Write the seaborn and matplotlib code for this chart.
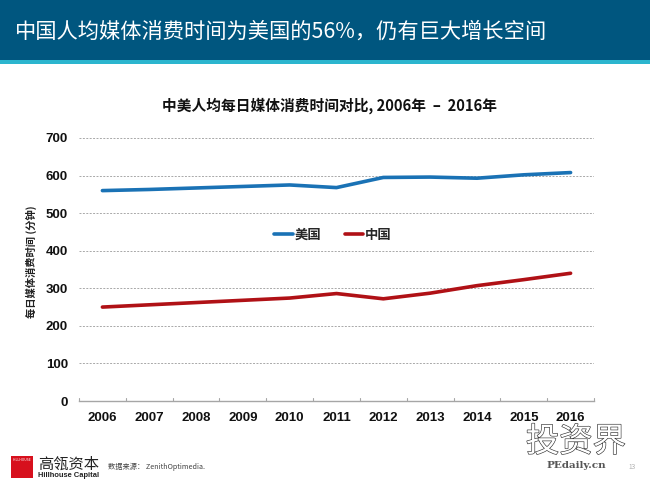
import matplotlib
matplotlib.use("Agg")
import matplotlib.pyplot as plt
import matplotlib.patheffects as pe
from matplotlib.patches import Rectangle
import pandas as pd
import seaborn as sns

YEARS = [2006, 2007, 2008, 2009, 2010, 2011, 2012, 2013, 2014, 2015, 2016]
USA = [560, 563, 567, 571, 575, 568, 595, 596, 593, 602, 608]
CHINA = [250, 256, 262, 268, 274, 286, 272, 287, 307, 323, 340]
Y_TICKS = [0, 100, 200, 300, 400, 500, 600, 700]

W, H = 650, 487

sns.set_theme(style="white")
plt.rcParams["font.family"] = ["Noto Sans CJK SC", "DejaVu Sans"]

data = pd.DataFrame({
    "idx": list(range(len(YEARS))) * 2,
    "minutes": USA + CHINA,
    "country": ["美国"] * len(YEARS) + ["中国"] * len(YEARS),
})

fig = plt.figure(figsize=(W / 100, H / 100), dpi=100, facecolor="white")

# header band
fig.add_artist(Rectangle((0, 1 - 60.5 / H), 1, 60.5 / H, transform=fig.transFigure, color="#00567F", lw=0))
fig.add_artist(Rectangle((0, 1 - 63.5 / H), 1, 3 / H, transform=fig.transFigure, color="#2BB5CE", lw=0))
fig.text(15 / W, 1 - 32 / H, "中国人均媒体消费时间为美国的56%，仍有巨大增长空间",
         color="white", fontsize=15.3, va="center", ha="left")
fig.text(329 / W, 1 - 106 / H, "中美人均每日媒体消费时间对比, 2006年  –  2016年",
         color="#111111", fontsize=10.6, fontweight="bold", va="center", ha="center")

ax = fig.add_axes([79 / W, 1 - 401 / H, (594 - 79) / W, (401 - 138) / H])
sns.lineplot(
    data=data, x="idx", y="minutes", hue="country",
    palette={"美国": "#1A72B5", "中国": "#B01116"},
    linewidth=2.6, errorbar=None, ax=ax, legend=False,
)
ax.set_xlim(-0.5, len(YEARS) - 0.5)
ax.set_ylim(0, 700)
ax.set_yticks(Y_TICKS)
ax.set_yticklabels(Y_TICKS, fontsize=9.5, fontweight="bold", family="Liberation Sans", color="#111111")
ax.set_xticks(range(len(YEARS)))
ax.set_xticklabels(YEARS, fontsize=9.5, fontweight="bold", family="Liberation Sans", color="#111111")
ax.tick_params(axis="x", length=0, pad=8)
ax.tick_params(axis="y", length=0, pad=8)
ax.set_xlabel("")
ax.set_ylabel("")
ax.yaxis.grid(True, color="#A8A8A8", linestyle=(0, (2, 1.5)), linewidth=0.7)
ax.xaxis.grid(False)
ax.set_axisbelow(True)
for side in ["top", "right", "left"]:
    ax.spines[side].set_visible(False)
ax.spines["bottom"].set_color("#A6A6A6")
ax.spines["bottom"].set_linewidth(1.0)

# tick marks between the categories, pointing up
for i in range(len(YEARS) + 1):
    ax.plot([i - 0.5, i - 0.5], [0, 7], color="#A6A6A6", lw=0.8, clip_on=False)

fig.text(31 / W, 1 - 262 / H, "每日媒体消费时间 (分钟)", rotation=90, fontsize=7.4,
         fontweight="bold", color="#222222", va="center", ha="center")

# legend inside the plot
legend_handles = [
    plt.Line2D([], [], color="#1A72B5", lw=2.6, label="美国"),
    plt.Line2D([], [], color="#B01116", lw=2.6, label="中国"),
]
ax.legend(handles=legend_handles, loc="center", bbox_to_anchor=((333 - 79) / 515, (401 - 235) / 263),
          ncol=2, frameon=False, handlelength=1.4, handletextpad=0.15, columnspacing=1.75,
          prop={"weight": "bold", "size": 9.6})

# logo and source
fig.add_artist(Rectangle((11 / W, 1 - 478 / H), 22 / W, 22 / H, transform=fig.transFigure, color="#D7101D", lw=0))
fig.text(22 / W, 1 - 460 / H, "HILLHOUSE", color="white", fontsize=2.4, ha="center", va="center")
fig.text(38 / W, 1 - 464 / H, "高瓴资本", fontsize=11, fontweight="medium", color="#222222", va="center", ha="left")
fig.text(38 / W, 1 - 475.5 / H, "Hillhouse Capital", fontsize=5.4, fontweight="bold", family="Liberation Sans",
         color="#222222", va="center", ha="left")
fig.text(108 / W, 1 - 467 / H, "数据来源： ZenithOptimedia.", fontsize=5.2, color="#444444", va="center", ha="left")
fig.text(632 / W, 1 - 467 / H, "13", fontsize=4.8, color="#B0B0B0", va="center", ha="center")

# watermark
fig.text(576 / W, 1 - 442 / H, "投资界", fontsize=24, color="white", va="center", ha="center", zorder=5,
         path_effects=[pe.withStroke(linewidth=0.9, foreground="#333333")])
fig.text(576 / W, 1 - 465 / H, "PEdaily.cn", fontsize=7.5, fontweight="bold", family="DejaVu Serif",
         color="#555555", va="center", ha="center", zorder=6)

fig.savefig("out.png", dpi=100)
